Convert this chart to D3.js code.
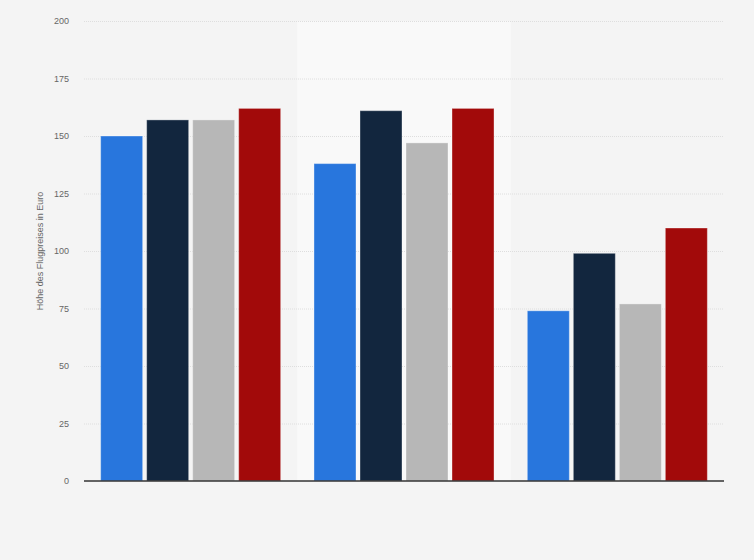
<!DOCTYPE html>
<meta charset="utf-8">
<style>
  body { margin: 0; background: #f4f4f4; }
  text { font-family: "Liberation Sans", Arial, sans-serif; }
</style>
<body>
<script src="https://cdnjs.cloudflare.com/ajax/libs/d3/7.8.5/d3.min.js"></script>
<script>

var groups = ["A", "B", "C"]
var series = ["s1", "s2", "s3", "s4"]
var colors = ["#2876dd", "#12263e", "#b7b7b7", "#a20a0a"]
var values = [
  [150, 157, 157, 162],
  [138, 161, 147, 162],
  [74, 99, 77, 110]
]
var yTicks = [0, 25, 50, 75, 100, 125, 150, 175, 200]

var width = 754,
    height = 560,
    margin = {top: 21, right: 30, bottom: 79, left: 84}

var svg = d3.select("body").append("svg")
    .attr("width", width)
    .attr("height", height)

svg.append("rect")
    .attr("width", width)
    .attr("height", height)
    .attr("fill", "#f4f4f4")

var x0 = d3.scaleBand()
    .domain(groups)
    .range([margin.left, width - margin.right])

var x1 = d3.scaleBand()
    .domain(series)
    .range([0, x0.bandwidth()])
    .paddingInner(0.087)
    .paddingOuter(0.362)

var y = d3.scaleLinear()
    .domain([0, 200])
    .range([height - margin.bottom, margin.top])

// lighter band behind the middle group
svg.append("rect")
    .attr("x", x0(groups[1]))
    .attr("y", y(200))
    .attr("width", x0.bandwidth())
    .attr("height", y(0) - y(200))
    .attr("fill", "#f9f9f9")

// grid
svg.append("g")
  .selectAll("line")
  .data(yTicks.slice(1))
  .join("line")
    .attr("x1", margin.left)
    .attr("x2", width - margin.right)
    .attr("y1", function(d) { return y(d) + 0.5 })
    .attr("y2", function(d) { return y(d) + 0.5 })
    .attr("stroke", "#dedede")
    .attr("stroke-width", 1)
    .attr("stroke-dasharray", "1,1")

// y axis labels
var yAxis = d3.axisLeft(y).tickValues(yTicks).tickSize(0).tickPadding(15)
svg.append("g")
    .attr("transform", "translate(" + margin.left + ",0)")
    .call(yAxis)
    .call(function(g) { g.select(".domain").remove() })
    .selectAll("text")
    .attr("font-family", "'Liberation Sans', Arial, sans-serif")
    .attr("font-size", 9)
    .attr("fill", "#666")

svg.append("text")
    .attr("transform", "translate(43," + (y(100)) + ") rotate(-90)")
    .attr("text-anchor", "middle")
    .attr("font-size", 9)
    .attr("fill", "#666")
    .text("Höhe des Flugpreises in Euro")

// bars
var g = svg.append("g")
  .selectAll("g")
  .data(groups)
  .join("g")
    .attr("transform", function(d) { return "translate(" + x0(d) + ",0)" })

g.selectAll("rect")
  .data(function(d, i) { return values[i].map(function(v, j) { return {key: series[j], value: v, c: colors[j]} }) })
  .join("rect")
    .attr("x", function(d) { return x1(d.key) })
    .attr("y", function(d) { return y(d.value) })
    .attr("width", x1.bandwidth())
    .attr("height", function(d) { return y(0) - y(d.value) })
    .attr("fill", function(d) { return d.c })
    .attr("stroke", "rgba(255,255,255,0.35)")
    .attr("stroke-width", 1)

// baseline
svg.append("line")
    .attr("x1", margin.left)
    .attr("x2", width - margin.right)
    .attr("y1", y(0))
    .attr("y2", y(0))
    .attr("stroke", "#333")
    .attr("stroke-width", 1.5)

</script>
